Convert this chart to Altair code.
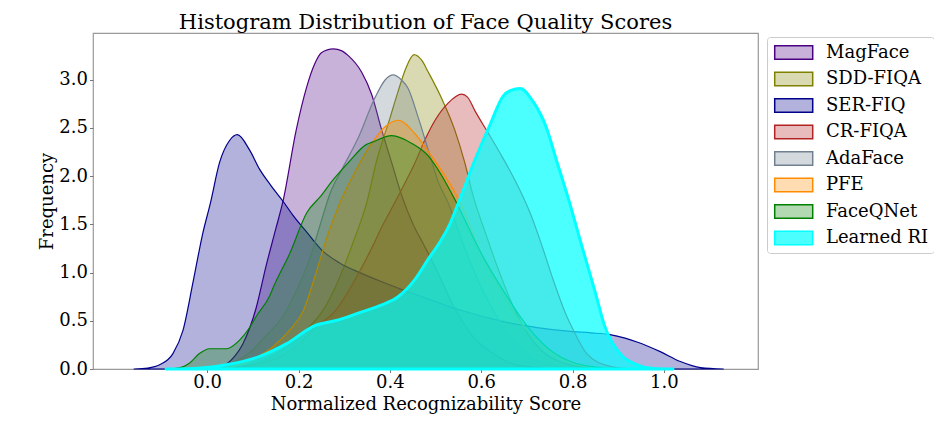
import altair as alt
import pandas as pd

FONT = "DejaVu Serif"

names = ["MagFace", "SDD-FIQA", "SER-FIQ", "CR-FIQA", "AdaFace", "PFE", "FaceQNet", "Learned RI"]
edge_colors = ["#4b0082", "#808000", "#00008b", "#b22222", "#708090", "#ff8c00", "#008000", "#00ffff"]
fill_colors = ["rgba(75,0,130,0.3)", "rgba(128,128,0,0.3)", "rgba(0,0,139,0.3)", "rgba(178,34,34,0.3)",
               "rgba(112,128,144,0.3)", "rgba(255,140,0,0.3)", "rgba(0,128,0,0.3)", "rgba(0,255,255,0.7)"]
edge_width = [1.2, 1.2, 1.2, 1.2, 1.2, 1.2, 1.2, 3.0]

x_ticks = [0.0, 0.2, 0.4, 0.6, 0.8, 1.0]
y_ticks = [0.0, 0.5, 1.0, 1.5, 2.0, 2.5, 3.0]

magface_x = [-0.02, 0.02, 0.042, 0.06, 0.078, 0.107, 0.129, 0.15, 0.166, 0.195, 0.217, 0.236, 0.25, 0.276,
             0.295, 0.309, 0.338, 0.36, 0.382, 0.404, 0.426, 0.451, 0.473, 0.50, 0.542, 0.58, 0.623, 0.66, 0.71, 0.76]
magface_y = [0.0, 0.01, 0.05, 0.13, 0.26, 0.63, 1.07, 1.45, 1.74, 2.48, 2.91, 3.17, 3.28, 3.32,
             3.30, 3.25, 3.08, 2.85, 2.48, 2.14, 1.80, 1.50, 1.30, 1.05, 0.63, 0.35, 0.17, 0.07, 0.02, 0.0]

sdd_x = [0.02, 0.08, 0.13, 0.18, 0.22, 0.254, 0.29, 0.32, 0.349, 0.371, 0.40, 0.418, 0.435, 0.453, 0.47,
         0.484, 0.513, 0.542, 0.564, 0.582, 0.61, 0.64, 0.67, 0.70, 0.73, 0.77, 0.82, 0.87]
sdd_y = [0.0, 0.03, 0.10, 0.25, 0.42, 0.61, 0.95, 1.32, 1.72, 2.16, 2.60, 2.88, 3.12, 3.26, 3.20,
         3.08, 2.81, 2.48, 2.14, 1.80, 1.40, 1.00, 0.65, 0.38, 0.20, 0.08, 0.02, 0.0]

ser_x = [-0.16, -0.13, -0.104, -0.075, -0.053, -0.031, -0.01, 0.007, 0.027, 0.049, 0.066, 0.093, 0.115, 0.14,
         0.166, 0.19, 0.218, 0.254, 0.29, 0.334, 0.385, 0.429, 0.488, 0.528, 0.57, 0.615, 0.67, 0.722, 0.795,
         0.84, 0.882, 0.915, 0.941, 0.992, 1.036, 1.08, 1.13]
ser_y = [0.0, 0.01, 0.044, 0.16, 0.40, 0.90, 1.40, 1.72, 2.14, 2.37, 2.43, 2.27, 2.07, 1.90,
         1.74, 1.58, 1.42, 1.22, 1.10, 1.00, 0.90, 0.82, 0.72, 0.65, 0.59, 0.53, 0.47, 0.43, 0.39,
         0.375, 0.357, 0.32, 0.28, 0.18, 0.078, 0.015, 0.0]

cr_x = [0.0, 0.05, 0.10, 0.15, 0.20, 0.236, 0.28, 0.33, 0.364, 0.382, 0.40, 0.433, 0.455, 0.477, 0.499,
        0.528, 0.557, 0.57, 0.586, 0.615, 0.646, 0.677, 0.707, 0.735, 0.758, 0.787, 0.80, 0.831, 0.88, 0.93]
cr_y = [0.0, 0.01, 0.04, 0.11, 0.25, 0.43, 0.60, 0.98, 1.29, 1.47, 1.63, 1.93, 2.14, 2.38, 2.58,
        2.76, 2.85, 2.82, 2.68, 2.45, 2.20, 1.93, 1.62, 1.25, 0.92, 0.55, 0.42, 0.16, 0.03, 0.0]

ada_x = [0.0, 0.05, 0.10, 0.13, 0.166, 0.196, 0.225, 0.247, 0.269, 0.296, 0.331, 0.367, 0.39, 0.407, 0.425,
         0.44, 0.462, 0.488, 0.506, 0.528, 0.56, 0.60, 0.64, 0.68, 0.72, 0.77, 0.82]
ada_y = [0.0, 0.05, 0.20, 0.35, 0.55, 0.82, 1.15, 1.49, 1.82, 2.08, 2.40, 2.81, 3.00, 3.05, 3.00,
         2.91, 2.61, 2.21, 1.94, 1.72, 1.30, 0.85, 0.50, 0.25, 0.10, 0.03, 0.0]

pfe_x = [0.02, 0.06, 0.10, 0.144, 0.18, 0.21, 0.243, 0.265, 0.29, 0.323, 0.36, 0.389, 0.418, 0.455, 0.491,
         0.52, 0.553, 0.60, 0.65, 0.70, 0.75, 0.80, 0.86]
pfe_y = [0.0, 0.03, 0.10, 0.23, 0.40, 0.60, 1.07, 1.405, 1.72, 2.04, 2.34, 2.51, 2.58, 2.44, 2.21,
         2.01, 1.74, 1.20, 0.75, 0.40, 0.18, 0.06, 0.0]

fq_x = [-0.08, -0.055, -0.039, -0.017, 0.005, 0.025, 0.042, 0.071, 0.093, 0.108, 0.137, 0.145, 0.181, 0.218,
        0.25, 0.272, 0.309, 0.349, 0.36, 0.404, 0.448, 0.484, 0.513, 0.542, 0.60, 0.65, 0.70, 0.75, 0.80,
        0.85, 0.90]
fq_y = [0.0, 0.02, 0.06, 0.16, 0.21, 0.21, 0.21, 0.30, 0.43, 0.55, 0.76, 0.85, 1.20, 1.62,
        1.80, 1.94, 2.14, 2.33, 2.35, 2.42, 2.34, 2.21, 2.01, 1.76, 1.20, 0.80, 0.45, 0.20, 0.07,
        0.02, 0.0]

ri_x = [-0.09, -0.03, 0.042, 0.115, 0.173, 0.236, 0.28, 0.331, 0.382, 0.418, 0.455, 0.484, 0.51, 0.528,
        0.553, 0.583, 0.619, 0.648, 0.665, 0.685, 0.714, 0.743, 0.765, 0.79, 0.82, 0.85, 0.87, 0.904,
        0.941, 0.977, 1.02]
ri_y = [0.0, 0.005, 0.044, 0.13, 0.26, 0.45, 0.50, 0.58, 0.665, 0.75, 0.93, 1.14, 1.32, 1.47,
        1.76, 2.13, 2.53, 2.83, 2.89, 2.91, 2.77, 2.50, 2.16, 1.78, 1.28, 0.79, 0.45, 0.16,
        0.044, 0.005, 0.0]

series_x = [magface_x, sdd_x, ser_x, cr_x, ada_x, pfe_x, fq_x, ri_x]
series_y = [magface_y, sdd_y, ser_y, cr_y, ada_y, pfe_y, fq_y, ri_y]

PLOT_W = 665
PLOT_H = 336

xscale = alt.Scale(domain=[-0.25, 1.206], nice=False, zero=False)
yscale = alt.Scale(domain=[0, 3.485], nice=False, zero=False)
fill_scale = alt.Scale(domain=names, range=fill_colors)
edge_scale = alt.Scale(domain=names, range=edge_colors)

xaxis = alt.Axis(values=x_ticks, format=".1f", title="Normalized Recognizability Score",
                 labelFont=FONT, labelFontSize=18, labelColor="black", titleFont=FONT, titleFontSize=18,
                 titleFontWeight="normal", titleColor="black", domain=False, grid=False, tickColor="#777",
                 tickSize=3.5, labelPadding=1, labelFlush=False,
                 titleBaseline="alphabetic", titleY=40)
yaxis = alt.Axis(values=y_ticks, format=".1f", title="Frequency",
                 labelFont=FONT, labelFontSize=18, labelColor="black", titleFont=FONT, titleFontSize=18,
                 titleFontWeight="normal", titleColor="black", domain=False, grid=False, tickColor="#777",
                 tickSize=3.5, labelPadding=2, labelFlush=False,
                 titleBaseline="middle", titleX=-46, titleY=PLOT_H / 2)

legend = alt.Legend(
    title=None, orient="none", legendX=674, legendY=4,
    symbolType="M-0.82,-0.72H3.18V0.72H-0.82Z", symbolSize=361, symbolStrokeWidth=1.5,
    labelFont=FONT, labelFontSize=18, labelColor="black", labelOffset=33,
    padding=5, rowPadding=5.5, strokeColor="#cccccc", fillColor="white", cornerRadius=3,
)

layers = []
for i, name in enumerate(names):
    df = pd.DataFrame({"score": series_x[i], "density": series_y[i], "method": name})
    layers.append(
        alt.Chart(df).mark_area(
            interpolate="monotone", opacity=1, strokeWidth=edge_width[i], strokeJoin="round"
        ).encode(
            x=alt.X("score:Q", scale=xscale, axis=xaxis),
            y=alt.Y("density:Q", scale=yscale, axis=yaxis, stack=None),
            color=alt.Color("method:N", scale=fill_scale, legend=legend),
            stroke=alt.Stroke("method:N", scale=edge_scale, legend=legend),
        )
    )

chart = alt.layer(*layers).properties(
    width=PLOT_W, height=PLOT_H,
    title=alt.TitleParams("Histogram Distribution of Face Quality Scores", font=FONT, fontSize=21,
                          fontWeight="normal", color="black", anchor="middle", offset=0.5),
    autosize=alt.AutoSizeParams(type="none"),
    padding={"left": 85, "top": 25, "right": 176, "bottom": 45},
).configure_view(stroke="#999999", strokeWidth=1.2)

chart.save("out.html", embed_options={"renderer": "svg", "actions": False})
